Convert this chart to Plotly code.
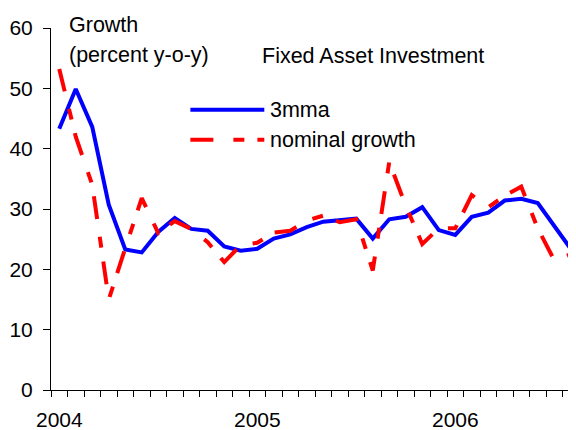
import plotly.graph_objects as go

# monthly data, Jan 2004 - Aug 2006
months = [f"{y}-{m:02d}" for y in (2004, 2005, 2006) for m in range(1, 13)][:32]

# 3-month moving average (percent y-o-y)
mma3 = [43.3, 49.9, 43.6, 30.7, 23.3, 22.8, 26.2, 28.5,
        26.7, 26.4, 23.8, 23.1, 23.4, 25.1, 25.8, 27.0,
        27.9, 28.2, 28.4, 25.1, 28.3, 28.7, 30.3, 26.5,
        25.7, 28.7, 29.4, 31.4, 31.7, 31.0, 27.3, 23.4]

# nominal growth (percent y-o-y)
nominal = [53.2, 42.0, 34.0, 15.0, 23.5, 31.8, 26.0, 28.0,
           26.7, 24.5, 21.2, 24.0, 24.4, 26.1, 26.4, 28.1,
           28.9, 27.8, 28.3, 19.8, 37.8, 30.5, 24.2, 26.8,
           26.8, 32.3, 30.3, 32.2, 33.7, 26.8, 21.5, 22.5]

y_ticks = [0, 10, 20, 30, 40, 50, 60]

# page is 576x430, the figure div sits 8px in from the top-left (body margin)
OFF = 8
W, H = 576 - OFF, 430 - OFF
L, R, T, B = 50.5 - OFF, 0, 28.3 - OFF, 430 - 390
FONT = "Liberation Sans, Arial, sans-serif"


def px(x):
    # page pixel -> paper fraction
    return (x - OFF - L) / (W - L - R)


def py(y):
    return (H - B - (y - OFF)) / (H - T - B)


idx = list(range(len(months)))
year_idx = [i for i, m in enumerate(months) if m.endswith("-01")]
year_txt = [months[i][:4] for i in year_idx]

fig = go.Figure()
#3mma
fig.add_trace(go.Scatter(
    x=idx, y=mma3, mode='lines', name='3mma',
    line=dict(color='#0000FF', width=4)
))
#nominal growth
fig.add_trace(go.Scatter(
    x=idx, y=nominal, mode='lines', name='nominal growth',
    line=dict(color='#FF0000', width=4, dash='23px,18px,11px,14px')
))

# category boundaries for the tick marks
unit = 16.516
span = (W - L - R) / unit
fig.update_xaxes(
    range=[-0.5, -0.5 + span],
    tickvals=[i - 0.5 for i in idx],
    ticktext=['' for _ in idx],
    ticks='outside', ticklen=6, tickcolor='black',
    showline=True, linecolor='black', linewidth=1,
    showgrid=False, zeroline=False
)
fig.update_yaxes(
    range=[0, 60], tickvals=y_ticks,
    ticks='outside', ticklen=7, tickcolor='black',
    ticklabelstandoff=6,
    showline=True, linecolor='black', linewidth=1,
    showgrid=False, zeroline=False,
    tickfont=dict(family=FONT, size=21, color='black')
)

annos = []
for i, t in zip(year_idx, year_txt):
    annos.append(dict(x=i, y=py(419), xref='x', yref='paper', text=t,
                      showarrow=False, xanchor='center', yanchor='middle',
                      font=dict(family=FONT, size=21, color='black')))

texts = [('Growth', 67, 25), ('(percent y-o-y)', 67, 55),
         ('Fixed Asset Investment', 260, 56),
         ('3mma', 268, 110), ('nominal growth', 268, 140)]
for t, x, y in texts:
    annos.append(dict(x=px(x), y=py(y), xref='paper', yref='paper', text=t,
                      showarrow=False, xanchor='left', yanchor='middle',
                      font=dict(family=FONT, size=21.5, color='black')))

# legend samples
shapes = [
    dict(type='line', xref='paper', yref='paper', x0=px(190), x1=px(264),
         y0=py(110), y1=py(110), line=dict(color='#0000FF', width=4)),
    dict(type='line', xref='paper', yref='paper', x0=px(190), x1=px(264),
         y0=py(140), y1=py(140),
         line=dict(color='#FF0000', width=4, dash='23px,20px,11px,13px')),
]

fig.update_layout(
    width=W, height=H,
    margin=dict(l=L, r=R, t=T, b=B),
    paper_bgcolor='white', plot_bgcolor='white',
    showlegend=False,
    annotations=annos, shapes=shapes
)

fig.write_html("out.html")
